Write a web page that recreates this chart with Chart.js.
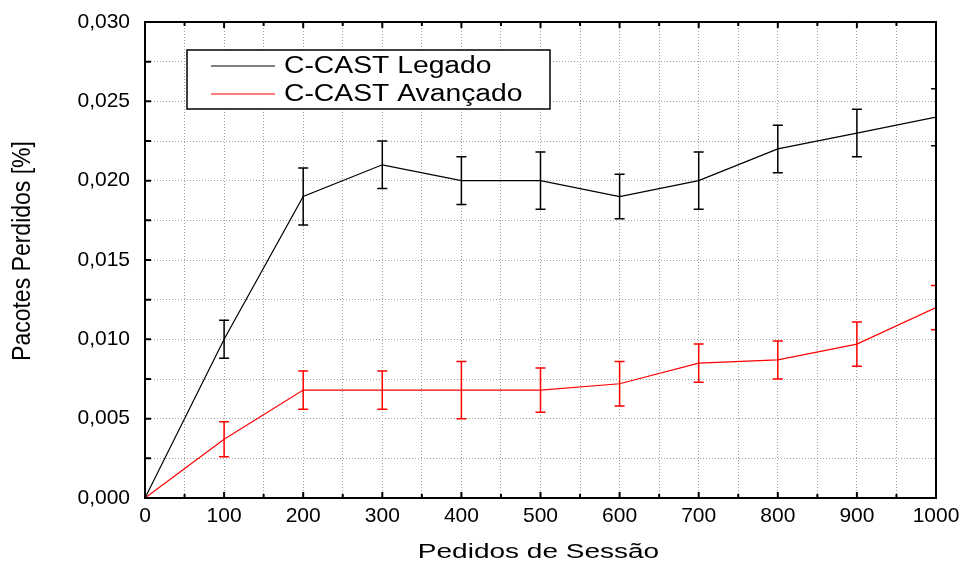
<!DOCTYPE html>
<html>
<head>
<meta charset="utf-8">
<script src="https://cdn.jsdelivr.net/npm/chart.js@4.4.0/dist/chart.umd.min.js"></script>
<style>
  body { margin: 0; background: #fff; }
  #wrap { width: 964px; height: 563px; }
</style>
</head>
<body>
<div id="wrap"><canvas id="chart1"></canvas></div>
<script>
var sessions = [0, 100, 200, 300, 400, 500, 600, 700, 800, 900, 1000];
var legado = [0, 0.0100, 0.0190, 0.0210, 0.0200, 0.0200, 0.0190, 0.0200, 0.0220, 0.0230, 0.0240];
var legadoErr = [0, 0.0012, 0.0018, 0.0015, 0.0015, 0.0018, 0.0014, 0.0018, 0.0015, 0.0015, 0.0018];
var avancado = [0, 0.0037, 0.0068, 0.0068, 0.0068, 0.0068, 0.0072, 0.0085, 0.0087, 0.0097, 0.0120];
var avancadoErr = [0, 0.0011, 0.0012, 0.0012, 0.0018, 0.0014, 0.0014, 0.0012, 0.0012, 0.0014, 0.0014];
var xTitle = "Pedidos de Sessão";
var yTitle = "Pacotes Perdidos [%]";

var FONT = "'Liberation Sans', Arial, sans-serif";

function toPoints(values) {
  return sessions.map(function (s, i) {
    return { x: s, y: values[i] };
  });
}

// error bars, drawn through the scales
var errorBars = {
  id: "errorBars",
  afterDatasetsDraw: function (chart) {
    var ctx = chart.ctx;
    var xs = chart.scales.x;
    var ys = chart.scales.y;
    var area = chart.chartArea;
    ctx.save();
    ctx.beginPath();
    ctx.rect(area.left, area.top, area.right - area.left, area.bottom - area.top);
    ctx.clip();
    chart.data.datasets.forEach(function (ds) {
      ctx.strokeStyle = ds.borderColor;
      ctx.lineWidth = 1.5;
      ds.data.forEach(function (p, i) {
        var e = ds.errors[i];
        if (!e) return;
        var px = xs.getPixelForValue(p.x);
        var top = ys.getPixelForValue(p.y + e);
        var bot = ys.getPixelForValue(p.y - e);
        ctx.beginPath();
        ctx.moveTo(px, top);
        ctx.lineTo(px, bot);
        ctx.moveTo(px - 5, top);
        ctx.lineTo(px + 5, top);
        ctx.moveTo(px - 5, bot);
        ctx.lineTo(px + 5, bot);
        ctx.stroke();
      });
    });
    ctx.restore();
  },
};

// frame with inward ticks, axis titles and the boxed legend
var frameAndLegend = {
  id: "frameAndLegend",
  afterDraw: function (chart) {
    var ctx = chart.ctx;
    var xs = chart.scales.x;
    var ys = chart.scales.y;
    var a = chart.chartArea;
    ctx.save();
    ctx.strokeStyle = "#000";
    ctx.lineWidth = 2;
    ctx.strokeRect(a.left, a.top, a.right - a.left, a.bottom - a.top);

    ctx.beginPath();
    xs.ticks.forEach(function (t) {
      var px = xs.getPixelForValue(t.value);
      var len = t.value % 100 === 0 ? 6 : 4;
      ctx.moveTo(px, a.bottom);
      ctx.lineTo(px, a.bottom - len);
      ctx.moveTo(px, a.top);
      ctx.lineTo(px, a.top + len);
    });
    ys.ticks.forEach(function (t) {
      var py = ys.getPixelForValue(t.value);
      ctx.moveTo(a.left, py);
      ctx.lineTo(a.left + 6, py);
    });
    ctx.stroke();

    // axis titles (the source picture is stretched sideways)
    ctx.fillStyle = "#000";
    ctx.textAlign = "center";
    ctx.textBaseline = "middle";
    ctx.font = "20px " + FONT;
    ctx.save();
    ctx.translate((a.left + a.right) / 2 - 2, 552);
    ctx.scale(1.4, 1);
    ctx.fillText(xTitle, 0, 0);
    ctx.restore();

    ctx.font = "23px " + FONT;
    ctx.save();
    ctx.translate(23, 251);
    ctx.rotate(-Math.PI / 2);
    ctx.scale(1, 1.15);
    ctx.fillText(yTitle, 0, 0);
    ctx.restore();

    // legend
    var bx = 187, by = 50, bw = 363, bh = 59;
    ctx.fillStyle = "#fff";
    ctx.fillRect(bx, by, bw, bh);
    ctx.lineWidth = 1.5;
    ctx.strokeStyle = "#000";
    ctx.strokeRect(bx, by, bw, bh);
    ctx.font = "23px " + FONT;
    ctx.textAlign = "left";
    ctx.textBaseline = "middle";
    chart.data.datasets.forEach(function (ds, i) {
      var y = by + 16 + i * 28;
      ctx.strokeStyle = ds.borderColor;
      ctx.lineWidth = 1.2;
      ctx.beginPath();
      ctx.moveTo(bx + 24, y);
      ctx.lineTo(bx + 88, y);
      ctx.stroke();
      ctx.save();
      ctx.translate(bx + 97, y + 1);
      ctx.scale(1.23, 1);
      ctx.fillStyle = "#000";
      ctx.fillText(ds.label, 0, 0);
      ctx.restore();
    });
    ctx.restore();
  },
};

var chart = new Chart("chart1", {
  type: "line",
  data: {
    datasets: [
      {
        label: "C-CAST Legado",
        data: toPoints(legado),
        errors: legadoErr,
        borderColor: "#000000",
        borderWidth: 1.2,
        pointRadius: 0,
        pointHoverRadius: 0,
        tension: 0,
        fill: false,
      },
      {
        label: "C-CAST Avançado",
        data: toPoints(avancado),
        errors: avancadoErr,
        borderColor: "#ff0000",
        borderWidth: 1.2,
        pointRadius: 0,
        pointHoverRadius: 0,
        tension: 0,
        fill: false,
      },
    ],
  },
  options: {
    animation: false,
    responsive: true,
    maintainAspectRatio: false,
    layout: { autoPadding: false, padding: { left: 0, right: 28, top: 22, bottom: 0 } },
    plugins: {
      legend: { display: false },
      tooltip: { enabled: false },
    },
    scales: {
      x: {
        type: "linear",
        min: 0,
        max: 1000,
        afterFit: function (scale) {
          scale.height = 65;
          scale.paddingLeft = 0;
          scale.paddingRight = 0;
        },
        grid: { color: "#a0a0a0", lineWidth: 1, drawTicks: false },
        border: { display: false, dash: [1, 2] },
        ticks: {
          stepSize: 50,
          padding: 6,
          maxRotation: 0,
          autoSkip: false,
          color: "#000",
          font: { family: FONT, size: 21 },
          callback: function (v) {
            return v % 100 === 0 ? String(v) : "";
          },
        },
      },
      y: {
        min: 0,
        max: 0.03,
        afterFit: function (scale) {
          scale.width = 145;
          scale.paddingTop = 0;
          scale.paddingBottom = 0;
        },
        grid: { color: "#a0a0a0", lineWidth: 1, drawTicks: false },
        border: { display: false, dash: [1, 2] },
        ticks: {
          stepSize: 0.0025,
          padding: 15,
          autoSkip: false,
          color: "#000",
          font: { family: FONT, size: 21 },
          callback: function (v) {
            return Math.round(v * 10000) % 50 === 0 ? v.toFixed(3).replace(".", ",") : "";
          },
        },
      },
    },
  },
  plugins: [errorBars, frameAndLegend],
});
</script>
</body>
</html>
